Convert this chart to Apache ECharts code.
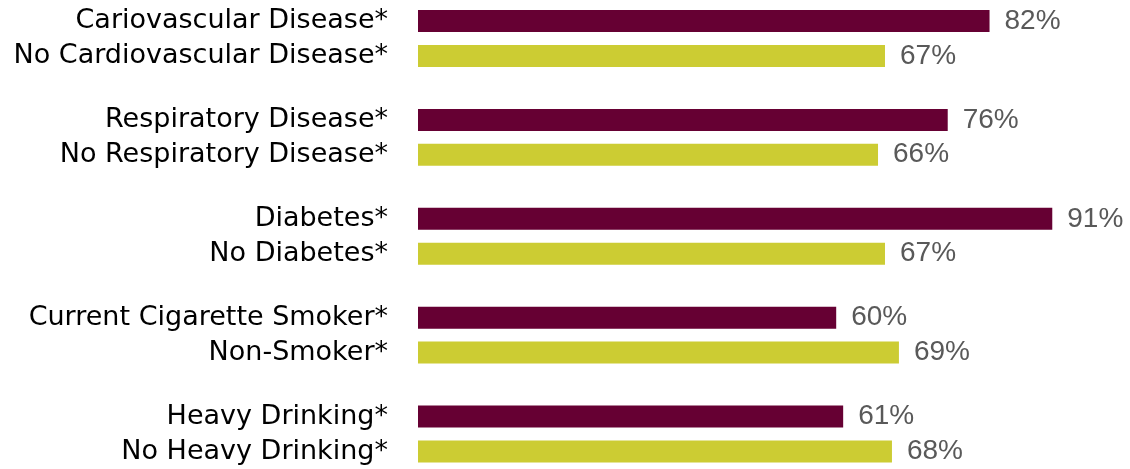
<!DOCTYPE html>
<html>
<head>
<meta charset="utf-8">
<script src="https://cdn.jsdelivr.net/npm/echarts@6/dist/echarts.min.js"></script>
<style>
html,body{margin:0;padding:0;background:#fff;}
#chart{width:1130px;height:469px;}
</style>
</head>
<body>
<div id="chart"></div>
<script>
const withLabels = ["Cariovascular Disease*", "Respiratory Disease*", "Diabetes*", "Current Cigarette Smoker*", "Heavy Drinking*"];
const withoutLabels = ["No Cardiovascular Disease*", "No Respiratory Disease*", "No Diabetes*", "Non-Smoker*", "No Heavy Drinking*"];
const withValues = [82, 76, 91, 60, 61];
const withoutValues = [67, 66, 67, 69, 68];

const categories = withLabels.map((t, i) => t + "\n" + withoutLabels[i]);

const chart = echarts.init(document.getElementById('chart'), null, {renderer: 'canvas'});
const valueLabel = {
  show: true,
  position: 'right',
  distance: 15,
  formatter: '{c}%',
  color: '#595959',
  fontFamily: 'Liberation Sans',
  fontSize: 28
};
chart.setOption({
  animation: false,
  grid: {left: 418, right: 15, top: 38.5, bottom: 33},
  xAxis: {
    type: 'value', min: 0, max: 100, show: false
  },
  yAxis: {
    type: 'category',
    inverse: true,
    boundaryGap: false,
    data: categories,
    axisLine: {show: false},
    axisTick: {show: false},
    axisLabel: {
      margin: 30,
      align: 'right',
      color: '#000',
      fontFamily: 'DejaVu Sans',
      fontSize: 27,
      lineHeight: 35
    }
  },
  series: [
    {
      type: 'bar',
      data: withValues,
      barWidth: 22,
      barGap: '58%',
      itemStyle: {color: '#660033'},
      label: valueLabel
    },
    {
      type: 'bar',
      data: withoutValues,
      barWidth: 22,
      itemStyle: {color: '#CCCC33'},
      label: valueLabel
    }
  ]
});
</script>
</body>
</html>
